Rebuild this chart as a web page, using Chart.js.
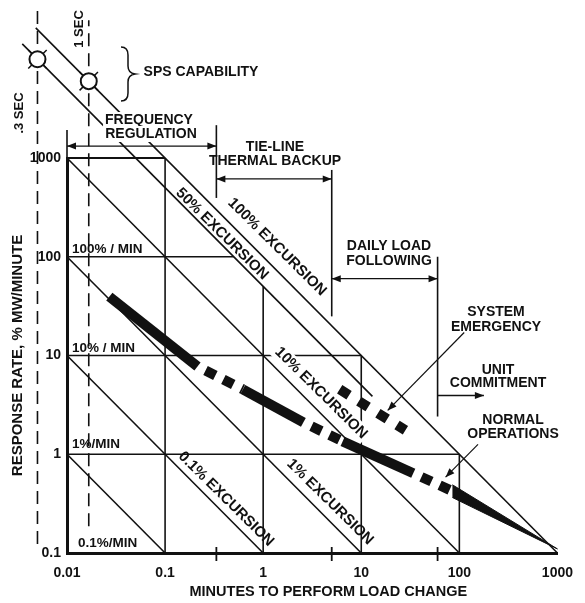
<!DOCTYPE html>
<html>
<head>
<meta charset="utf-8">
<script src="https://cdn.jsdelivr.net/npm/chart.js@4.4.1/dist/chart.umd.min.js"></script>
<style>
  html, body { margin: 0; padding: 0; background: #fff; }
</style>
</head>
<body>
<canvas id="respChart" width="585" height="603"></canvas>
<script>
// axis ticks (decades)
var timeTicks = [0.01, 0.1, 1, 10, 100, 1000];
var rateTicks = [0.1, 1, 10, 100, 1000];

// staircase grid: horizontal rate lines and the time where each one stops
var gridRates = [1000, 100, 10, 1];
var gridRateEnds = [0.1, 0.5, 10, 100];
// vertical time lines and the rate where each one starts
var gridTimes = [0.1, 1, 10, 100];
var gridTimeTops = [1000, 50, 10, 1];

// constant excursion lines (% excursion)
var excursionPct = [0.01, 0.1, 1, 10, 50, 100];
var excStartTime = [0.01, 0.01, 0.01, 0.01, 0.0035, 0.0048];
var excStartRate = [1, 10, 100, 1000, 14300, 20800];
var excEndTime = [0.1, 1, 10, 100, 13, 1000];
var excEndRate = [0.1, 0.1, 0.1, 0.1, 3.85, 0.1];

// SPS capability (.3 sec and 1 sec)
var spsTime = [0.005, 1 / 60];
var spsRate = [10000, 6000];
var secLineTop = [35000, 24800];
var secLineBottom = [0.123, 0.187];

// normal operations band
var normalTime = [0.027, 0.214, 0.62, 2.57, 6.46, 33.9, 85];
var normalRate = [39.4, 7.74, 4.55, 2.1, 1.35, 0.643, 0.423];
var normalTailTime = [85, 1000];
var normalTailRate = [0.423, 0.11];

// system emergency band
var emergTime = [6.03, 28.2];
var emergRate = [4.54, 1.75];

// operating ranges along the top (minutes)
var rangeStart = [0.01, 1 / 3, 5, 60];
var rangeEnd = [1 / 3, 5, 60, 178];
var rangeArrowRate = [1320, 614, 60, 3.94];
var boundTime = [0.01, 1 / 3, 5, 60];
var boundLow = [1000, 394, 24.9, 2.41];
var boundHigh = [1920, 2150, 757, 100];
var axisMarkTime = [1 / 3, 5, 60];

// pointers from the labels
var pointerFromTime = [112, 155];
var pointerFromRate = [17.1, 1.26];
var pointerToTime = [18.6, 72.4];
var pointerToRate = [2.78, 0.586];

var INK = '#111';
var FONT = '"Liberation Sans", Arial, Helvetica, sans-serif';

Chart.defaults.font.family = FONT;
Chart.defaults.color = INK;

function pts(xs, ys) {
  return xs.map(function(x, i) { return {x: x, y: ys[i]}; });
}

function lineSet(xs, ys, extra) {
  var ds = {
    data: pts(xs, ys),
    borderColor: INK,
    borderWidth: 1.6,
    pointRadius: 0,
    clip: false,
    tension: 0,
    order: 5
  };
  for (var k in extra) ds[k] = extra[k];
  return ds;
}

var datasets = [];

// sps markers sit above the plot area, drawn again by the plugin
datasets.push({
  data: pts(spsTime, spsRate), showLine: false, clip: false, outside: true,
  pointStyle: 'crossRot', pointRadius: 13, pointBorderWidth: 1.5,
  pointBorderColor: INK
});
datasets.push({
  data: pts(spsTime, spsRate), showLine: false, clip: false, outside: true,
  pointStyle: 'circle', pointRadius: 8, pointBorderWidth: 2,
  pointBorderColor: INK, pointBackgroundColor: '#fff'
});

gridRates.forEach(function(r, i) {
  datasets.push(lineSet([0.01, gridRateEnds[i]], [r, r], {borderWidth: i === 0 ? 2.2 : 1.6}));
});
gridTimes.forEach(function(t, i) {
  datasets.push(lineSet([t, t], [0.1, gridTimeTops[i]]));
});
excursionPct.forEach(function(p, i) {
  datasets.push(lineSet([excStartTime[i], excEndTime[i]], [excStartRate[i], excEndRate[i]]));
});
spsTime.forEach(function(t, i) {
  datasets.push(lineSet([t, t], [secLineBottom[i], secLineTop[i]], {borderDash: [13, 7], borderWidth: 1.6}));
});
rangeStart.forEach(function(t, i) {
  datasets.push(lineSet([t, rangeEnd[i]], [rangeArrowRate[i], rangeArrowRate[i]],
    {borderWidth: 1.4, arrow: i < 3 ? 'both' : 'end'}));
});
boundTime.forEach(function(t, i) {
  datasets.push(lineSet([t, t], [boundLow[i], boundHigh[i]]));
});
axisMarkTime.forEach(function(t) {
  datasets.push(lineSet([t, t], [0.083, 0.115], {borderWidth: 1.8}));
});
pointerFromTime.forEach(function(t, i) {
  datasets.push(lineSet([t, pointerToTime[i]], [pointerFromRate[i], pointerToRate[i]],
    {borderWidth: 1.2, arrow: 'end'}));
});

// normal operations: solid / dashed pieces
datasets.push(lineSet(normalTime, normalRate, {
  borderWidth: 10, order: 3,
  segment: {
    borderDash: function(c) { return c.p0DataIndex % 2 === 1 ? [11, 9] : []; },
    borderDashOffset: function(c) { return c.p0DataIndex % 2 === 1 ? 11 : 0; }
  }
}));
// tapering tail
var tail = pts(normalTailTime, normalTailRate);
datasets.push(lineSet([], [], {
  data: [{x: tail[0].x, y: tail[0].y * 1.16}, tail[1], {x: tail[0].x, y: tail[0].y / 1.16}],
  fill: 'shape', backgroundColor: INK, borderWidth: 1, order: 3
}));
// system emergency blocks
datasets.push(lineSet(emergTime, emergRate, {borderWidth: 10, borderDash: [11, 11.5], order: 3}));

function head(ctx, from, to) {
  var a = Math.atan2(to.y - from.y, to.x - from.x);
  ctx.save();
  ctx.translate(to.x, to.y);
  ctx.rotate(a);
  ctx.beginPath();
  ctx.moveTo(0, 0);
  ctx.lineTo(-9, -3.5);
  ctx.lineTo(-9, 3.5);
  ctx.closePath();
  ctx.fillStyle = INK;
  ctx.fill();
  ctx.restore();
}

function put(ctx, str, x, y, o) {
  o = o || {};
  var size = o.size || 14;
  ctx.save();
  ctx.translate(x, y);
  if (o.rot) ctx.rotate(o.rot);
  ctx.font = 'bold ' + size + 'px ' + FONT;
  ctx.textAlign = o.align || 'center';
  ctx.textBaseline = 'middle';
  if (o.bg) {
    var w = ctx.measureText(str).width;
    var x0 = o.align === 'left' ? 0 : -w / 2;
    ctx.fillStyle = '#fff';
    ctx.fillRect(x0 - 2, -size / 2 - 1, w + 4, size + 2);
  }
  ctx.fillStyle = INK;
  ctx.fillText(str, 0, 0);
  ctx.restore();
}

var DIAG = Math.atan2(99, 100);
var UP = -Math.PI / 2;

var labelPlugin = {
  id: 'labels',
  afterDatasetsDraw: function(chart) {
    var ctx = chart.ctx;
    chart.data.datasets.forEach(function(ds, i) {
      if (ds.outside) {
        chart.getDatasetMeta(i).data.forEach(function(el) { el.draw(ctx); });
      }
      if (!ds.arrow) return;
      var p = chart.getDatasetMeta(i).data;
      head(ctx, p[p.length - 2], p[p.length - 1]);
      if (ds.arrow === 'both') head(ctx, p[1], p[0]);
    });

    // brace
    ctx.save();
    ctx.strokeStyle = INK;
    ctx.lineWidth = 1.5;
    ctx.beginPath();
    ctx.moveTo(121, 47);
    ctx.quadraticCurveTo(128, 47, 128, 55);
    ctx.lineTo(128, 66);
    ctx.quadraticCurveTo(128, 73, 135, 74);
    ctx.quadraticCurveTo(128, 75, 128, 82);
    ctx.lineTo(128, 93);
    ctx.quadraticCurveTo(128, 101, 121, 101);
    ctx.stroke();
    ctx.restore();

    put(ctx, 'SPS CAPABILITY', 201, 72);
    put(ctx, '1 SEC', 79, 29, {rot: UP, size: 13});
    put(ctx, '.3 SEC', 19, 113, {rot: UP, size: 13});
    put(ctx, 'FREQUENCY', 149, 120, {bg: true});
    put(ctx, 'REGULATION', 151, 134, {bg: true});
    put(ctx, 'TIE-LINE', 275, 147);
    put(ctx, 'THERMAL BACKUP', 275, 161);
    put(ctx, 'DAILY LOAD', 389, 246);
    put(ctx, 'FOLLOWING', 389, 261);
    put(ctx, 'SYSTEM', 496, 312);
    put(ctx, 'EMERGENCY', 496, 327);
    put(ctx, 'UNIT', 498, 370);
    put(ctx, 'COMMITMENT', 498, 383);
    put(ctx, 'NORMAL', 513, 420);
    put(ctx, 'OPERATIONS', 513, 434);

    put(ctx, '100% / MIN', 72, 249, {align: 'left', size: 13.5});
    put(ctx, '10% / MIN', 72, 348, {align: 'left', size: 13.5});
    put(ctx, '1%/MIN', 72, 444, {align: 'left', size: 13.5});
    put(ctx, '0.1%/MIN', 78, 543, {align: 'left', size: 13.5});

    put(ctx, '100% EXCURSION', 277, 247, {rot: DIAG, size: 15});
    put(ctx, '50% EXCURSION', 222, 234, {rot: DIAG, size: 15});
    put(ctx, '10% EXCURSION', 321, 393, {rot: DIAG, size: 15, bg: true});
    put(ctx, '1% EXCURSION', 330, 502, {rot: DIAG, size: 15});
    put(ctx, '0.1% EXCURSION', 226, 499, {rot: DIAG, size: 15});
  }
};

new Chart(document.getElementById('respChart'), {
  type: 'line',
  data: { datasets: datasets },
  options: {
    responsive: false,
    animation: false,
    events: [],
    layout: { padding: { left: 0, right: 18, top: 158, bottom: 0 } },
    plugins: { legend: { display: false }, tooltip: { enabled: false } },
    scales: {
      x: {
        type: 'logarithmic', min: 0.01, max: 1000,
        grid: { display: false, drawTicks: false },
        border: { display: true, width: 3, color: INK },
        afterBuildTicks: function(s) { s.ticks = timeTicks.map(function(v) { return {value: v}; }); },
        afterFit: function(s) { s.height = 50; },
        ticks: { autoSkip: false, maxRotation: 0, padding: 12, font: { size: 14, weight: 'bold' },
                 callback: function(v) { return String(v); } },
        title: { display: true, text: '        MINUTES TO PERFORM LOAD CHANGE',
                 font: { size: 14.5, weight: 'bold' }, padding: { top: 0, bottom: 2 } }
      },
      y: {
        type: 'logarithmic', min: 0.1, max: 1000,
        grid: { display: false, drawTicks: false },
        border: { display: true, width: 3, color: INK },
        afterBuildTicks: function(s) { s.ticks = rateTicks.map(function(v) { return {value: v}; }); },
        afterFit: function(s) { s.width = 67; },
        ticks: { autoSkip: false, padding: 6, font: { size: 14, weight: 'bold' },
                 callback: function(v) { return String(v); } },
        title: { display: true, text: 'RESPONSE RATE, % MW/MINUTE',
                 font: { size: 15, weight: 'bold' }, padding: { top: 9, bottom: 0 } }
      }
    }
  },
  plugins: [labelPlugin]
});
</script>
</body>
</html>
